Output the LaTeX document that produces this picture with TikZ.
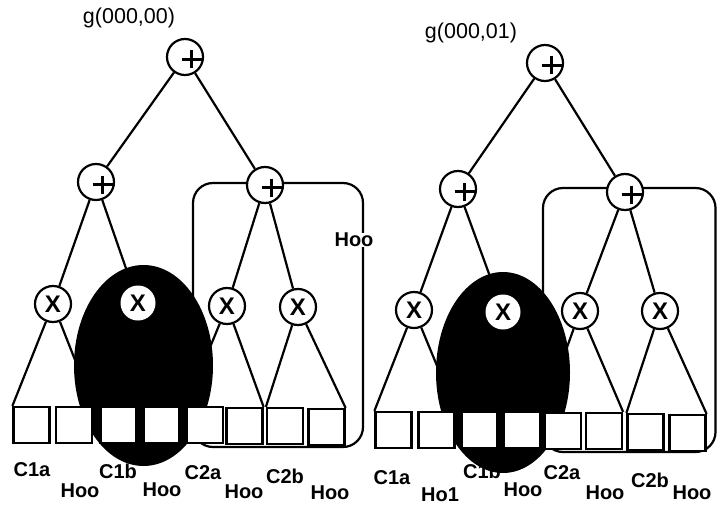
\documentclass[tikz,border=0pt]{standalone}
\usepackage{fontspec}
\setmainfont{Liberation Sans}
\usetikzlibrary{shapes.geometric}
\pgfdeclarelayer{wires}
\pgfdeclarelayer{blob}
\pgfsetlayers{wires,blob,main}
\begin{document}
\begin{tikzpicture}[x=1pt,y=-1pt,
  wire/.style={line width=2.2pt},
  frame/.style={line width=2.2pt, rounded corners=20pt},
  opnode/.style={circle, draw, line width=2.2pt, fill=white, minimum size=36pt, inner sep=0pt},
  plusnode/.style={opnode, path picture={
      \draw[line width=3.6pt, shift={(path picture bounding box.center)}]
        (-3.5,2.5) -- (16.5,2.5) (6.5,-6.5) -- (6.5,11.5);}},
  timesnode/.style={opnode, font=\fontsize{24}{24}\selectfont\bfseries},
  hidnode/.style={circle, fill=white, minimum size=35pt, inner sep=0pt, font=\fontsize{24}{24}\selectfont\bfseries},
  cell/.style={draw, line width=2.2pt, fill=white, minimum width=36pt, minimum height=36pt, inner sep=0pt},
  blobshape/.style={ellipse, fill=black, inner sep=0pt},
  title/.style={font=\fontsize{21.5}{21.5}\selectfont, inner sep=0pt},
  tag/.style={font=\fontsize{20}{20}\selectfont\bfseries, inner sep=0pt}
]
\useasboundingbox (0,0) rectangle (717,508);

% ---------- left tree: g(000,00) ----------
\node[title] (gA) at (129,18) {g(000,00)};
\node[plusnode] (pA) at (185,57) {};
\node[plusnode] (pAl) at (96,182) {};
\node[plusnode] (pAr) at (265,185) {};
\node[timesnode] (xA1) at (53,304) {X};
\node[hidnode] (xA2) at (138,303) {X};
\node[timesnode] (xA3) at (227,306) {X};
\node[timesnode] (xA4) at (298,307) {X};
\node[cell] (bA1) at (31.5,425) {};
\node[cell] (bA2) at (74,425) {};
\node[cell] (bA3) at (118.5,425) {};
\node[cell] (bA4) at (161.5,425) {};
\node[cell] (bA5) at (205,425) {};
\node[cell] (bA6) at (244.5,426) {};
\node[cell] (bA7) at (285,426) {};
\node[cell] (bA8) at (326.5,427) {};
\node[tag] (lA1) at (32,470) {C1a};
\node[tag] (lA2) at (80,491) {Hoo};
\node[tag] (lA3) at (118,471) {C1b};
\node[tag] (lA4) at (162,490) {Hoo};
\node[tag] (lA5) at (203,473) {C2a};
\node[tag] (lA6) at (244,492) {Hoo};
\node[tag] (lA7) at (285,476) {C2b};
\node[tag] (lA8) at (330,493) {Hoo};
\node[tag, fill=white] (hA) at (354,240) {Hoo};

\begin{pgfonlayer}{wires}
  \draw[wire] (pA) -- (pAl) (pA) -- (pAr);
  \draw[wire] (pAl) -- (xA1) (pAl) -- (xA2) (pAr) -- (xA3) (pAr) -- (xA4);
  \draw[wire] (xA1) -- (bA1.north west) (xA1) -- (bA2.north east);
  \draw[wire] (xA2) -- (bA3.north west) (xA2) -- (bA4.north east);
  \draw[wire] (xA3) -- (bA5.north west) (xA3) -- (bA6.north east);
  \draw[wire] (xA4) -- (bA7.north west) (xA4) -- (bA8.north east);
  \draw[frame] (193,183) rectangle (363,447);
\end{pgfonlayer}
\begin{pgfonlayer}{blob}
  \node[blobshape, minimum width=139pt, minimum height=201pt] (eA) at (143.5,365.5) {};
\end{pgfonlayer}

% ---------- right tree: g(000,01) ----------
\node[title] (gB) at (471,33) {g(000,01)};
\node[plusnode] (pB) at (545,63) {};
\node[plusnode] (pBl) at (458,189) {};
\node[plusnode] (pBr) at (625,192) {};
\node[timesnode] (xB1) at (414,310) {X};
\node[hidnode] (xB2) at (503,312) {X};
\node[timesnode] (xB3) at (580,311) {X};
\node[timesnode] (xB4) at (660,311) {X};
\node[cell] (bB1) at (393.5,430) {};
\node[cell] (bB2) at (436.5,430) {};
\node[cell] (bB3) at (479.5,430) {};
\node[cell] (bB4) at (522,430) {};
\node[cell] (bB5) at (563,431) {};
\node[cell] (bB6) at (604,431) {};
\node[cell] (bB7) at (645.5,432) {};
\node[cell] (bB8) at (687.5,433) {};
\node[tag] (lB1) at (392,478) {C1a};
\node[tag] (lB2) at (440,495) {Ho1};
\node[tag] (lB3) at (482,471) {C1b};
\node[tag] (lB4) at (523,490) {Hoo};
\node[tag] (lB5) at (562,473) {C2a};
\node[tag] (lB6) at (605,493) {Hoo};
\node[tag] (lB7) at (650,480) {C2b};
\node[tag] (lB8) at (692,493) {Hoo};

\begin{pgfonlayer}{wires}
  \draw[wire] (pB) -- (pBl) (pB) -- (pBr);
  \draw[wire] (pBl) -- (xB1) (pBl) -- (xB2) (pBr) -- (xB3) (pBr) -- (xB4);
  \draw[wire] (xB1) -- (bB1.north west) (xB1) -- (bB2.north east);
  \draw[wire] (xB2) -- (bB3.north west) (xB2) -- (bB4.north east);
  \draw[wire] (xB3) -- (bB5.north west) (xB3) -- (bB6.north east);
  \draw[wire] (xB4) -- (bB7.north west) (xB4) -- (bB8.north east);
  \draw[frame] (543,188) rectangle (715.5,452);
\end{pgfonlayer}
\begin{pgfonlayer}{blob}
  \node[blobshape, minimum width=134pt, minimum height=201pt] (eB) at (503,372.5) {};
\end{pgfonlayer}
\end{tikzpicture}
\end{document}
